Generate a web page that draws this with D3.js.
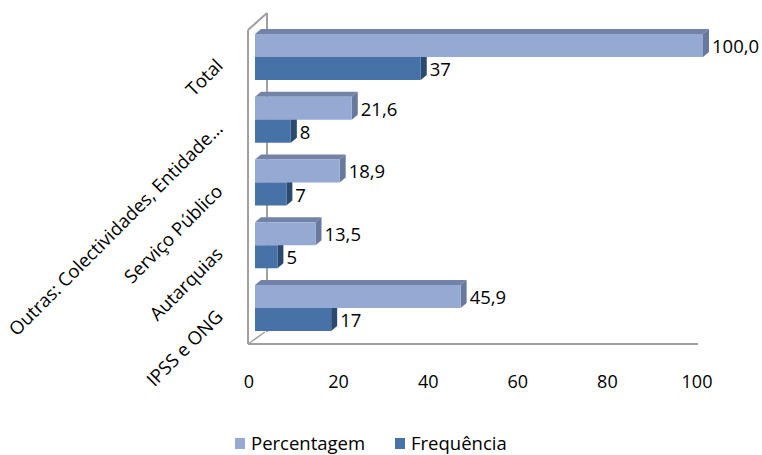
<!DOCTYPE html>
<html>
<head>
<meta charset="utf-8">
<script src="https://cdn.jsdelivr.net/npm/d3@7"></script>
<style>
  body { margin: 0; background: #fff; }
  text { font-family: "Open Sans", "Liberation Sans", sans-serif; fill: #000; }
</style>
</head>
<body>
<div id="chart"></div>
<script>
// data (top to bottom)
var categories = ["Total", "Outras: Colectividades, Entidade...", "Serviço Público", "Autarquias", "IPSS e ONG"];
var percentagem = [100.0, 21.6, 18.9, 13.5, 45.9];
var frequencia = [37, 8, 7, 5, 17];
var seriesNames = ["Percentagem", "Frequência"];
var xTicks = [0, 20, 40, 60, 80, 100];

var width = 762, height = 455;
var svg = d3.select("#chart").append("svg")
  .attr("width", width)
  .attr("height", height);

var pt = d3.formatLocale({decimal: ",", thousands: ".", grouping: [3], currency: ["", "€"]});
var fmtPct = pt.format(".1f");
var fmtInt = pt.format("d");

var xScale = d3.scaleLinear().domain([0, 100]).range([255, 703]);
var yScale = d3.scaleBand()
  .domain(categories)
  .range([25.6, 339.4])
  .paddingInner(0.267)
  .paddingOuter(0.1335);
var ySub = d3.scaleBand().domain(seriesNames).range([0, yScale.bandwidth()]);

var colors = {
  "Percentagem": {front: "#95a9d3", top: "#7283a7", side: "#68799d"},
  "Frequência": {front: "#4672a8", top: "#3a5f8d", side: "#2b4a70"}
};
var dx = 6, dy = -5; // bar depth

// walls (depth offset of the chart box)
var wx = xScale(0) - 7, wdx = 19, wdy = -17;
var floorY = 344;
var wall = svg.append("g").attr("fill", "none").attr("stroke", "#a0a0a0").attr("stroke-width", 2);
wall.append("line").attr("x1", wx + wdx).attr("y1", 30 + wdy).attr("x2", wx + wdx).attr("y2", floorY - 12);
wall.append("line").attr("x1", wx).attr("y1", 30).attr("x2", wx + wdx).attr("y2", 30 + wdy);
wall.append("line").attr("x1", wx).attr("y1", floorY).attr("x2", wx + 17).attr("y2", floorY - 12).attr("stroke-width", 1.5);
wall.append("line").attr("x1", wx).attr("y1", 30).attr("x2", wx).attr("y2", floorY);
wall.append("line").attr("x1", wx).attr("y1", floorY).attr("x2", xScale(100) - 5).attr("y2", floorY);

// bars
var rows = categories.map(function(c, i) {
  return {cat: c, values: [
    {name: "Frequência", v: frequencia[i], label: fmtInt(frequencia[i])},
    {name: "Percentagem", v: percentagem[i], label: fmtPct(percentagem[i])}
  ]};
});

var groups = svg.selectAll("g.cat")
  .data(rows)
  .enter().append("g")
  .attr("class", "cat");

var bars = groups.selectAll("g.bar")
  .data(function(d) { return d.values.map(function(b) { b.cat = d.cat; return b; }); })
  .enter().append("g")
  .attr("class", "bar");

function geo(d) {
  var y0 = yScale(d.cat) + ySub(d.name);
  return {x0: xScale(0), x1: xScale(d.v), y0: y0, y1: y0 + ySub.bandwidth()};
}

bars.append("polygon")
  .attr("points", function(d) {
    var g = geo(d);
    return [[g.x0, g.y0], [g.x0 + dx, g.y0 + dy], [g.x1 + dx, g.y0 + dy], [g.x1, g.y0]].join(" ");
  })
  .attr("fill", function(d) { return colors[d.name].top; });

bars.append("polygon")
  .attr("points", function(d) {
    var g = geo(d);
    return [[g.x1, g.y0], [g.x1 + dx, g.y0 + dy], [g.x1 + dx, g.y1 + dy], [g.x1, g.y1]].join(" ");
  })
  .attr("fill", function(d) { return colors[d.name].side; });

bars.append("rect")
  .attr("x", function(d) { return geo(d).x0; })
  .attr("y", function(d) { return geo(d).y0; })
  .attr("width", function(d) { var g = geo(d); return g.x1 - g.x0; })
  .attr("height", ySub.bandwidth())
  .attr("fill", function(d) { return colors[d.name].front; });

bars.append("text")
  .attr("x", function(d) { return xScale(d.v) + dx + 3; })
  .attr("y", function(d) { var g = geo(d); return (g.y0 + g.y1) / 2; })
  .attr("dominant-baseline", "central")
  .style("font-size", "18.5px")
  .text(function(d) { return d.label; });

// category labels, rotated
svg.selectAll("text.cat")
  .data(categories)
  .enter().append("text")
  .attr("class", "cat")
  .attr("text-anchor", "end")
  .style("font-size", "18.5px")
  .attr("transform", function(d) {
    var cy = yScale(d) + yScale.bandwidth() / 2 + 10;
    return "translate(224," + cy + ") rotate(-45)";
  })
  .text(function(d) { return d; });

// x tick labels
svg.selectAll("text.tick")
  .data(xTicks)
  .enter().append("text")
  .attr("class", "tick")
  .attr("x", function(d) { return xScale(d) - 6; })
  .attr("y", 381)
  .attr("text-anchor", "middle")
  .attr("dominant-baseline", "central")
  .style("font-size", "18px")
  .text(function(d) { return d; });

// legend
var legX = [235, 395];
var legend = svg.selectAll("g.leg")
  .data(seriesNames)
  .enter().append("g")
  .attr("class", "leg")
  .attr("transform", function(d, i) { return "translate(" + legX[i] + ",438)"; });
legend.append("rect").attr("width", 10).attr("height", 11)
  .attr("fill", function(d) { return colors[d].front; });
legend.append("text").attr("x", 16).attr("y", 11.5)
  .style("font-size", "18.5px")
  .text(function(d) { return d; });
</script>
</body>
</html>
